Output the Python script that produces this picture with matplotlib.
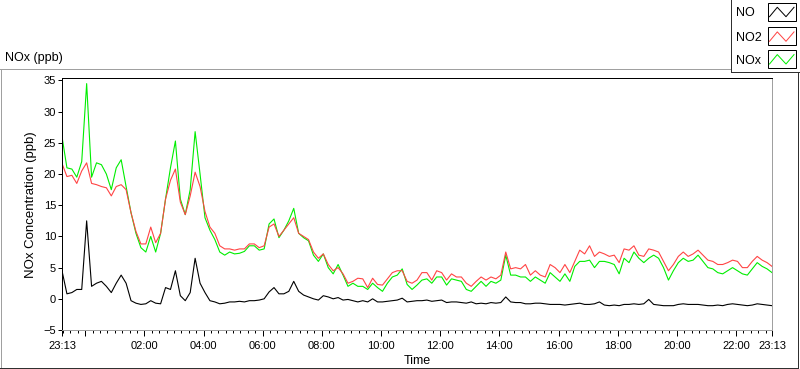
import numpy as np
import pandas as pd
import matplotlib
matplotlib.use('Agg')
import matplotlib.pyplot as plt
import matplotlib.dates as mdates
from matplotlib.lines import Line2D
from matplotlib.patches import Rectangle

plt.rcParams['font.family'] = ['Liberation Sans', 'DejaVu Sans']

# readings every 10 min, starting 23:13
no = [4.5, 0.8, 1.0, 1.5, 1.5, 12.5, 2.0, 2.5, 2.8, 2.0,
      1.0, 2.5, 3.8, 2.5, -0.3, -0.7, -0.9, -0.8, -0.3, -0.7,
      -0.8, 1.8, 1.5, 4.5, 0.5, -0.3, 1.0, 6.5, 2.5, 1.0,
      -0.3, -0.5, -0.8, -0.7, -0.5, -0.5, -0.4, -0.5, -0.3, -0.3,
      -0.2, 0.0, 1.1, 1.8, 0.8, 0.8, 1.2, 2.8, 1.2, 0.6,
      0.3, 0.0, -0.2, 0.5, 0.3, 0.0, 0.2, -0.2, -0.1, -0.3,
      -0.5, -0.3, -0.5, 0.0, -0.5, -0.5, -0.4, -0.3, -0.2, 0.1,
      -0.5, -0.4, -0.3, -0.3, -0.2, -0.4, -0.3, -0.2, -0.6, -0.5,
      -0.5, -0.6, -0.7, -0.5, -0.8, -0.7, -0.8, -0.6, -0.7, -0.6,
      0.3, -0.5, -0.6, -0.6, -0.8, -0.8, -0.7, -0.7, -0.8, -0.9,
      -0.9, -0.9, -1.0, -0.9, -0.8, -0.7, -0.9, -0.9, -0.8, -0.5,
      -1.0, -1.1, -1.0, -1.1, -0.9, -0.9, -0.8, -0.9, -0.8, -0.1,
      -0.9, -1.0, -1.1, -1.1, -1.1, -0.9, -0.8, -0.9, -0.9, -0.9,
      -1.0, -1.1, -1.1, -1.0, -1.1, -0.9, -0.8, -0.9, -1.0, -1.1,
      -1.0, -0.8, -0.9, -1.0, -1.1]

no2 = [21.7, 19.6, 19.8, 18.5, 20.5, 21.8, 18.5, 18.3, 18.0, 17.8,
       16.5, 18.0, 18.3, 17.5, 13.8, 10.8, 8.8, 8.8, 11.5, 9.0,
       10.5, 16.0, 19.0, 20.8, 15.5, 13.5, 16.5, 20.3, 18.0, 14.0,
       11.5, 10.5, 8.5, 8.0, 8.0, 7.8, 8.0, 8.0, 8.8, 8.8,
       8.2, 8.5, 11.5, 12.0, 10.0, 11.0, 12.0, 13.0, 10.5, 10.0,
       9.5, 7.5, 6.5, 7.2, 5.5, 4.5, 5.0, 4.0, 2.5, 2.8,
       3.3, 3.2, 1.8, 3.3, 2.3, 2.2, 3.2, 4.2, 4.5, 4.5,
       2.8, 2.5, 3.0, 4.2, 4.2, 3.0, 4.5, 4.2, 3.0, 4.0,
       3.5, 3.5, 2.5, 2.0, 2.8, 3.5, 3.0, 3.5, 3.2, 3.8,
       7.5, 4.8, 5.0, 4.8, 5.5, 3.8, 4.5, 3.8, 3.5, 5.5,
       5.0, 4.2, 5.5, 4.2, 6.0, 7.8, 7.2, 8.5, 6.8, 7.5,
       7.2, 6.8, 7.0, 5.8, 8.0, 7.8, 8.5, 7.0, 6.8, 8.0,
       7.8, 7.5, 6.0, 4.5, 5.5, 6.8, 7.5, 6.8, 7.2, 7.8,
       7.0, 6.2, 6.0, 5.5, 5.5, 5.8, 6.2, 6.0, 5.0, 5.0,
       6.0, 6.8, 6.2, 5.8, 5.2]

nox = [26.0, 21.0, 20.8, 19.5, 22.0, 34.5, 19.5, 21.8, 21.5, 20.0,
       17.5, 21.0, 22.3, 18.0, 13.8, 10.5, 8.2, 7.5, 10.0, 7.5,
       10.5, 16.0, 21.0, 25.3, 16.0, 13.5, 17.5, 26.8, 20.0, 13.0,
       11.0, 9.5, 7.5, 7.0, 7.5, 7.2, 7.3, 7.6, 8.5, 8.5,
       7.8, 8.0, 12.0, 12.8, 9.8, 11.0, 12.5, 14.5, 10.5, 9.8,
       9.3, 7.0, 6.0, 7.2, 5.0, 4.0, 5.5, 3.8, 2.0, 2.5,
       2.0, 2.0, 1.5, 2.5, 1.8, 1.2, 2.5, 3.5, 3.8, 4.8,
       2.3, 1.5, 2.2, 3.0, 3.2, 2.5, 3.5, 3.5, 2.2, 3.2,
       3.0, 2.8, 1.5, 1.2, 2.0, 2.8, 2.0, 2.8, 2.5, 3.0,
       7.0, 3.8, 3.8, 3.5, 3.5, 2.8, 3.5, 3.0, 2.5, 4.2,
       3.5, 2.8, 4.0, 2.8, 5.2, 6.0, 6.0, 6.2, 5.0, 6.0,
       6.0, 5.8, 5.5, 4.0, 6.5, 5.8, 7.5, 6.5, 5.8, 6.5,
       7.0, 6.5, 5.0, 3.0, 4.5, 5.8, 6.5, 6.0, 6.2, 7.0,
       6.0, 5.0, 4.8, 4.2, 4.0, 4.5, 5.0, 4.5, 4.0, 3.8,
       4.8, 5.8, 5.2, 4.8, 4.2]

series_names = ['NO', 'NO2', 'NOx']
series_colors = ['black', '#ff4444', '#00ee00']

W, H = 800, 369
def fx(px):
    return px / W
def fy(py):
    return 1 - py / H

fig = plt.figure(figsize=(8, 3.69), dpi=100)
ax = fig.add_axes([fx(62), fy(330), fx(772) - fx(62), fy(78) - fy(330)])

times = pd.date_range('2000-01-01 23:13', periods=len(no), freq='10min')

# green first, red over it, black on top
ax.plot(times, nox, color=series_colors[2], lw=0.8)
ax.plot(times, no2, color=series_colors[1], lw=0.8)
ax.plot(times, no, color=series_colors[0], lw=0.8)

ax.set_xlim(times[0], times[-1])
ax.set_ylim(-5, 35.4)
ax.set_yticks(range(-5, 36, 5))

hours = pd.date_range('2000-01-02 00:00', '2000-01-02 22:00', freq='2h')
major = [times[0]] + list(hours) + [times[-1]]
labels = ['23:13'] + ['' if h.hour == 0 else h.strftime('%H:%M') for h in hours] + ['23:13']
ax.set_xticks(mdates.date2num(major), labels)
ax.xaxis.set_minor_locator(mdates.MinuteLocator(byminute=[0, 15, 30, 45]))

ax.tick_params(axis='x', which='major', length=4.3, width=0.72, pad=3.5, labelsize=8)
ax.tick_params(axis='x', which='minor', length=2.2, width=0.72)
ax.tick_params(axis='y', length=3.2, width=0.72, pad=1, labelsize=8)

for s in ['top', 'left']:
    ax.spines[s].set_color('black')
for s in ['right', 'bottom']:
    ax.spines[s].set_color('#a0a0a0')
for s in ax.spines.values():
    s.set_linewidth(0.72)

fig.text(fx(31), fy(205), 'NOx Concentration (ppb)', rotation=90,
         ha='center', va='center', fontsize=9.5)
fig.text(fx(417.5), fy(361), 'Time', ha='center', va='center', fontsize=9)
fig.text(fx(5), fy(58), 'NOx (ppb)', ha='left', va='center', fontsize=9)

# outer frame
def fline(x0, y0, x1, y1, color):
    fig.add_artist(Line2D([fx(x0), fx(x1)], [fy(y0), fy(y1)], color=color,
                          lw=0.72, transform=fig.transFigure, antialiased=False))

fline(0, 69, 730, 69, '#a0a0a0')
fline(0.5, 69, 0.5, 368, '#a0a0a0')
fline(0, 367.5, 798, 367.5, '#303030')
fline(797.5, 72, 797.5, 368, '#303030')

# legend box
fline(730.5, 0, 730.5, 72, '#303030')
fline(730.5, 72, 800, 72, '#303030')

row_top = [2.7, 27.3, 50.0]
for name, color, top in zip(series_names, series_colors, row_top):
    fig.text(fx(736), fy(top + 10.5), name, ha='left', va='center', fontsize=9)
    fig.add_artist(Rectangle((fx(767.5), fy(top + 18)), 28 / W, 18 / H,
                             facecolor='white', edgecolor='black', lw=0.72,
                             transform=fig.transFigure))
    zx = [769.5, 777.3, 786, 794]
    zy = [top + 14, top + 4.6, top + 14, top + 4.6]
    fig.add_artist(Line2D([fx(v) for v in zx], [fy(v) for v in zy], color=color,
                          lw=0.72, transform=fig.transFigure))

fig.savefig('out.png', dpi=100)
